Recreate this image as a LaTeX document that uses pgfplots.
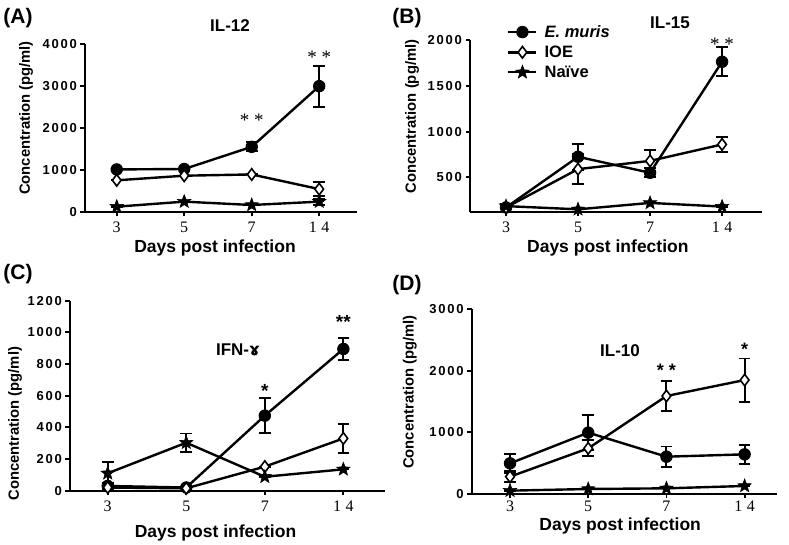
\documentclass[border=0pt]{standalone}
\usepackage{fontspec}
\setmainfont{Liberation Serif}
\setsansfont{Liberation Sans}
\newfontfamily\ytf{Liberation Sans}[LetterSpace=14]
\newfontfamily\djv{DejaVu Sans}
\usepackage{pgfplots}
\pgfplotsset{compat=1.18}

\pgfdeclareplotmark{fstar}{%
  \pgfpathmoveto{\pgfqpointpolar{90}{\pgfplotmarksize}}%
  \pgfpathlineto{\pgfqpointpolar{126}{0.42\pgfplotmarksize}}%
  \pgfpathlineto{\pgfqpointpolar{162}{\pgfplotmarksize}}%
  \pgfpathlineto{\pgfqpointpolar{198}{0.42\pgfplotmarksize}}%
  \pgfpathlineto{\pgfqpointpolar{234}{\pgfplotmarksize}}%
  \pgfpathlineto{\pgfqpointpolar{270}{0.42\pgfplotmarksize}}%
  \pgfpathlineto{\pgfqpointpolar{306}{\pgfplotmarksize}}%
  \pgfpathlineto{\pgfqpointpolar{342}{0.42\pgfplotmarksize}}%
  \pgfpathlineto{\pgfqpointpolar{18}{\pgfplotmarksize}}%
  \pgfpathlineto{\pgfqpointpolar{54}{0.42\pgfplotmarksize}}%
  \pgfpathclose
  \pgfusepathqfillstroke}

\pgfplotsset{
  panel/.style={
    scale only axis,
    axis x line*=bottom, axis y line*=left,
    xtick={0,1,2,3}, xticklabels={3,5,7,{1\hspace{4.5pt}4}},
    tick align=outside,
    axis line style={line width=2.2pt},
    every tick/.style={line width=1.8pt, black},
    major tick length=4.5pt,
    yticklabel style={font=\ytf\bfseries\fontsize{13}{13}\selectfont},
    xticklabel style={font=\rmfamily\fontsize{16}{16}\selectfont, yshift=-2pt},
    /pgf/number format/assume math mode=true,
    /pgf/number format/1000 sep={},
    xlabel={Days post infection}, ylabel={Concentration (pg/ml)},
    xlabel style={font=\sffamily\bfseries\fontsize{17.5}{17.5}\selectfont, anchor=center},
    ylabel style={font=\sffamily\bfseries\fontsize{14.8}{14.8}\selectfont, anchor=center},
    clip=false,
  },
  eb/.style={error bars/y dir=both, error bars/y explicit,
    error bars/error bar style={line width=1.9pt},
    error bars/error mark options={rotate=90, mark size=5.8pt, line width=1.9pt}},
  em/.style={black, line width=2.4pt, mark=*, mark size=5.7pt, mark options={solid, fill=black, line width=1pt}, eb},
  ioe/.style={black, line width=2.4pt, mark=diamond*, mark size=5.8pt, mark options={solid, fill=white, line width=1.6pt}, eb},
  nai/.style={black, line width=2.4pt, mark=fstar, mark size=7pt, mark options={solid, fill=black, line width=0.6pt}, eb},
}

\begin{document}
\begin{tikzpicture}[x=1pt,y=1pt]
\useasboundingbox (0,0) rectangle (789,545);

% ---------- (A) IL-12 ----------
\begin{axis}[panel, at={(85pt,333.3pt)}, anchor=south west,
  width=272pt, height=167.4pt,
  xmin=-0.47, xmax=3.56, ymin=0, ymax=4000, ytick={0,1000,2000,3000,4000},
  xlabel style={at={([xshift=-6pt,yshift=-36pt]axis description cs:0.5,0)}},
  ylabel style={at={([xshift=-59pt,yshift=10pt]axis description cs:0,0.5)}}]
\addplot[em] coordinates {(0,1010) +- (0,0) (1,1020) +- (0,0) (2,1550) +- (0,110) (3,3000) +- (0,490)};
\addplot[ioe] coordinates {(0,750) +- (0,0) (1,860) +- (0,0) (2,890) +- (0,0) (3,540) +- (0,175)};
\addplot[nai] coordinates {(0,120) +- (0,0) (1,240) +- (0,0) (2,160) +- (0,0) (3,240) +- (0,70)};
\node[font=\rmfamily\fontsize{19}{19}\selectfont] at (axis cs:2,2180) {* *};
\node[font=\rmfamily\fontsize{19}{19}\selectfont] at (axis cs:3,3690) {* *};
\end{axis}

% ---------- (B) IL-15 ----------
\begin{axis}[panel, at={(470pt,333.3pt)}, anchor=south west,
  width=291.7pt, height=171.4pt,
  xmin=-0.5, xmax=3.55, ymin=124, ymax=2000, ytick={500,1000,1500,2000},
  xlabel style={at={([xshift=-8pt,yshift=-36pt]axis description cs:0.5,0)}},
  ylabel style={at={([xshift=-58pt,yshift=9.5pt]axis description cs:0,0.5)}},
  legend style={draw=none, fill=none, at={(0.127,1.1)}, anchor=north west, inner sep=0pt,
    font=\sffamily\bfseries\fontsize{16.5}{16.5}\selectfont, row sep=3pt, column sep=5pt},
  legend cell align=left,
  legend image code/.code={\draw[mark repeat=2,mark phase=2] plot coordinates {(0pt,0pt) (14pt,0pt) (28pt,0pt)};}]
\addplot[em] coordinates {(0,170) +- (0,0) (1,725) +- (0,140) (2,550) +- (0,50) (3,1765) +- (0,157)};
\addplot[ioe] coordinates {(0,170) +- (0,0) (1,590) +- (0,165) (2,680) +- (0,115) (3,860) +- (0,85)};
\addplot[nai] coordinates {(0,185) +- (0,20) (1,150) +- (0,0) (2,220) +- (0,0) (3,180) +- (0,0)};
\legend{{\itshape E. muris},IOE,Naïve}
\node[font=\rmfamily\fontsize{19}{19}\selectfont] at (axis cs:3,1960) {* *};
\end{axis}

% ---------- (C) IFN ----------
\begin{axis}[panel, at={(70pt,54.3pt)}, anchor=south west,
  width=315pt, height=190pt,
  xmin=-0.48, xmax=3.53, ymin=0, ymax=1200, ytick={0,200,400,600,800,1000,1200},
  xlabel style={at={([xshift=-12pt,yshift=-42pt]axis description cs:0.5,0)}},
  ylabel style={at={([xshift=-55pt,yshift=-28pt]axis description cs:0,0.5)}}]
\addplot[em] coordinates {(0,30) +- (0,20) (1,20) +- (0,0) (2,474) +- (0,110) (3,895) +- (0,72)};
\addplot[ioe] coordinates {(0,20) +- (0,0) (1,15) +- (0,0) (2,152) +- (0,0) (3,330) +- (0,90)};
\addplot[nai] coordinates {(0,110) +- (0,70) (1,303) +- (0,58) (2,88) +- (0,0) (3,135) +- (0,0)};
\node[font=\sffamily\bfseries\fontsize{19}{19}\selectfont] at (axis cs:2,630) {*};
\node[font=\sffamily\bfseries\fontsize{19}{19}\selectfont] at (axis cs:3,1065) {**};
\end{axis}

% ---------- (D) IL-10 ----------
\begin{axis}[panel, at={(471.7pt,51pt)}, anchor=south west,
  width=305pt, height=185pt,
  xmin=-0.49, xmax=3.41, ymin=0, ymax=3000, ytick={0,1000,2000,3000},
  xticklabel style={yshift=3pt},
  xlabel style={at={([xshift=-4pt,yshift=-32pt]axis description cs:0.5,0)}},
  ylabel style={at={([xshift=-62pt,yshift=9.5pt]axis description cs:0,0.5)}}]
\addplot[em] coordinates {(0,497) +- (0,150) (1,995) +- (0,280) (2,605) +- (0,165) (3,643) +- (0,155)};
\addplot[ioe] coordinates {(0,281) +- (0,90) (1,740) +- (0,130) (2,1589) +- (0,240) (3,1848) +- (0,350)};
\addplot[nai] coordinates {(0,54) +- (0,0) (1,81) +- (0,0) (2,92) +- (0,0) (3,130) +- (0,0)};
\node[font=\sffamily\bfseries\fontsize{18}{18}\selectfont] at (axis cs:2,2000) {* *};
\node[font=\sffamily\bfseries\fontsize{18}{18}\selectfont] at (axis cs:3,2340) {*};
\end{axis}

% titles and panel letters
\node[font=\sffamily\bfseries\fontsize{17}{17}\selectfont] at (230,519) {IL-12};
\node[font=\sffamily\bfseries\fontsize{17}{17}\selectfont] at (670,522) {IL-15};
\node[font=\sffamily\bfseries\fontsize{17}{17}\selectfont] at (238,195) {IFN-{\djv ɤ}};
\node[font=\sffamily\bfseries\fontsize{17}{17}\selectfont] at (620,194) {IL-10};
\node[font=\sffamily\bfseries\fontsize{21}{21}\selectfont] at (18,527) {(A)};
\node[font=\sffamily\bfseries\fontsize{21}{21}\selectfont] at (407,527) {(B)};
\node[font=\sffamily\bfseries\fontsize{21}{21}\selectfont] at (18,271) {(C)};
\node[font=\sffamily\bfseries\fontsize{21}{21}\selectfont] at (407,260) {(D)};
\end{tikzpicture}
\end{document}
